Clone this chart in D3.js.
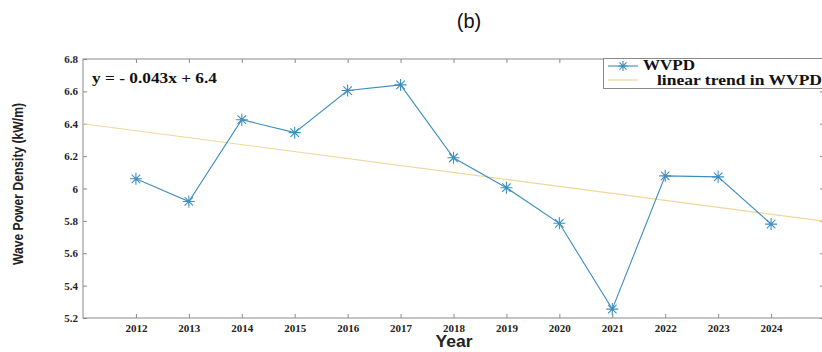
<!DOCTYPE html>
<html>
<head>
<meta charset="utf-8">
<script src="https://cdn.jsdelivr.net/npm/d3@7"></script>
<style>
  html, body { margin: 0; padding: 0; background: #fff; }
  svg { display: block; }
</style>
</head>
<body>
<svg id="chart" width="822" height="352"></svg>
<script>
// Annual wave power density (kW/m), 2012–2024
const years = [2012, 2013, 2014, 2015, 2016, 2017, 2018, 2019, 2020, 2021, 2022, 2023, 2024];
const wvpd  = [6.06, 5.92, 6.425, 6.345, 6.605, 6.64, 6.19, 6.005, 5.785, 5.255, 6.078, 6.072, 5.78];
const yTicks = [5.2, 5.4, 5.6, 5.8, 6, 6.2, 6.4, 6.6, 6.8];
// linear fit: y = slope * (year - 2011) + intercept
const trendSlope = -0.043;
const trendIntercept = 6.4;
const trendYears = [2011, 2025];

const svg = d3.select("#chart");
const m = { left: 83, right: 824, top: 59, bottom: 318 };

const x = d3.scaleLinear().domain([2011, 2025]).range([m.left, m.right]);
const y = d3.scaleLinear().domain([5.2, 6.8]).range([m.bottom, m.top]);

const axisColor = "#8a8a8a";
const serif = "'Liberation Serif', 'Times New Roman', serif";

// frame
svg.append("rect")
  .attr("x", m.left).attr("y", m.top)
  .attr("width", m.right - m.left).attr("height", m.bottom - m.top)
  .attr("fill", "none").attr("stroke", axisColor).attr("stroke-width", 1);

function styleAxis(g, showText) {
  g.select(".domain").remove();
  g.selectAll(".tick line").attr("stroke", axisColor);
  g.selectAll(".tick text")
    .attr("fill", showText ? "#222" : "none")
    .style("font-family", serif)
    .style("font-weight", "bold")
    .style("font-size", "11px");
}

svg.append("g")
  .attr("transform", `translate(0,${m.bottom})`)
  .call(d3.axisBottom(x).tickValues(years).tickFormat(d3.format("d")).tickSize(-4).tickPadding(6))
  .call(g => styleAxis(g, true));

svg.append("g")
  .attr("transform", `translate(0,${m.top})`)
  .call(d3.axisTop(x).tickValues(years).tickFormat("").tickSize(-4))
  .call(g => styleAxis(g, false));

svg.append("g")
  .attr("transform", `translate(${m.left},0)`)
  .call(d3.axisLeft(y).tickValues(yTicks).tickFormat(d3.format("~g")).tickSize(-4).tickPadding(5))
  .call(g => styleAxis(g, true));

svg.append("g")
  .attr("transform", `translate(${m.right},0)`)
  .call(d3.axisRight(y).tickValues(yTicks).tickFormat("").tickSize(-4))
  .call(g => styleAxis(g, false));

// trend line
const trendColor = "#efd79c";
svg.append("line")
  .attr("x1", x(trendYears[0])).attr("y1", y(trendIntercept + trendSlope * (trendYears[0] - 2011)))
  .attr("x2", x(trendYears[1])).attr("y2", y(trendIntercept + trendSlope * (trendYears[1] - 2011)))
  .attr("stroke", trendColor).attr("stroke-width", 1.2);

// data line
const lineColor = "#3d8dbf";
const pts = years.map((yr, i) => [yr, wvpd[i]]);
svg.append("path")
  .datum(pts)
  .attr("fill", "none").attr("stroke", lineColor).attr("stroke-width", 1.1)
  .attr("d", d3.line().x(d => x(d[0])).y(d => y(d[1])));

// asterisk markers
function asterisk(r) {
  const a = r * Math.SQRT1_2;
  return `M${-r},0L${r},0M0,${-r}L0,${r}M${-a},${-a}L${a},${a}M${-a},${a}L${a},${-a}`;
}
svg.append("g").selectAll("path")
  .data(pts).join("path")
  .attr("transform", d => `translate(${x(d[0])},${y(d[1])})`)
  .attr("d", asterisk(6))
  .attr("stroke", lineColor).attr("stroke-width", 1.1).attr("fill", "none");

// equation
svg.append("text")
  .attr("x", 92).attr("y", 83)
  .attr("textLength", 125).attr("lengthAdjust", "spacingAndGlyphs")
  .style("font-family", serif).style("font-weight", "bold").style("font-size", "15px")
  .attr("fill", "#111")
  .text("y = - 0.043x + 6.4");

// legend
const lg = svg.append("g");
lg.append("rect")
  .attr("x", 603.5).attr("y", 58.5).attr("width", 230).attr("height", 30)
  .attr("fill", "#fff").attr("stroke", axisColor);
lg.append("line").attr("x1", 608).attr("x2", 638).attr("y1", 66).attr("y2", 66)
  .attr("stroke", lineColor).attr("stroke-width", 1.1);
lg.append("path").attr("transform", "translate(623,66)").attr("d", asterisk(5))
  .attr("stroke", lineColor).attr("stroke-width", 1.1);
lg.append("line").attr("x1", 608).attr("x2", 638).attr("y1", 80).attr("y2", 80)
  .attr("stroke", trendColor).attr("stroke-width", 1.2);
lg.append("text").attr("x", 643).attr("y", 70)
  .attr("textLength", 52).attr("lengthAdjust", "spacingAndGlyphs")
  .style("font-family", serif).style("font-weight", "bold").style("font-size", "14px")
  .attr("fill", "#111").text("WVPD");
lg.append("text").attr("x", 657).attr("y", 85)
  .attr("textLength", 165).attr("lengthAdjust", "spacingAndGlyphs")
  .style("font-family", serif).style("font-weight", "bold").style("font-size", "14px")
  .attr("fill", "#111").text("linear trend in WVPD");

// axis titles
svg.append("text")
  .attr("x", 454).attr("y", 347)
  .attr("text-anchor", "middle")
  .attr("textLength", 37).attr("lengthAdjust", "spacingAndGlyphs")
  .style("font-family", "'Liberation Sans', Arial, sans-serif").style("font-weight", "bold").style("font-size", "16px")
  .attr("fill", "#222").text("Year");

svg.append("text")
  .attr("transform", "translate(23,184) rotate(-90)")
  .attr("text-anchor", "middle")
  .attr("textLength", 162).attr("lengthAdjust", "spacingAndGlyphs")
  .style("font-family", "'Liberation Sans Narrow', 'Arial Narrow', sans-serif").style("font-weight", "bold").style("font-size", "15px")
  .attr("fill", "#222").text("Wave Power Density (kW/m)");

// panel title
svg.append("text")
  .attr("x", 469).attr("y", 28)
  .attr("text-anchor", "middle")
  .style("font-family", "'Liberation Sans', Arial, sans-serif").style("font-size", "20px")
  .attr("fill", "#111").text("(b)");
</script>
</body>
</html>
